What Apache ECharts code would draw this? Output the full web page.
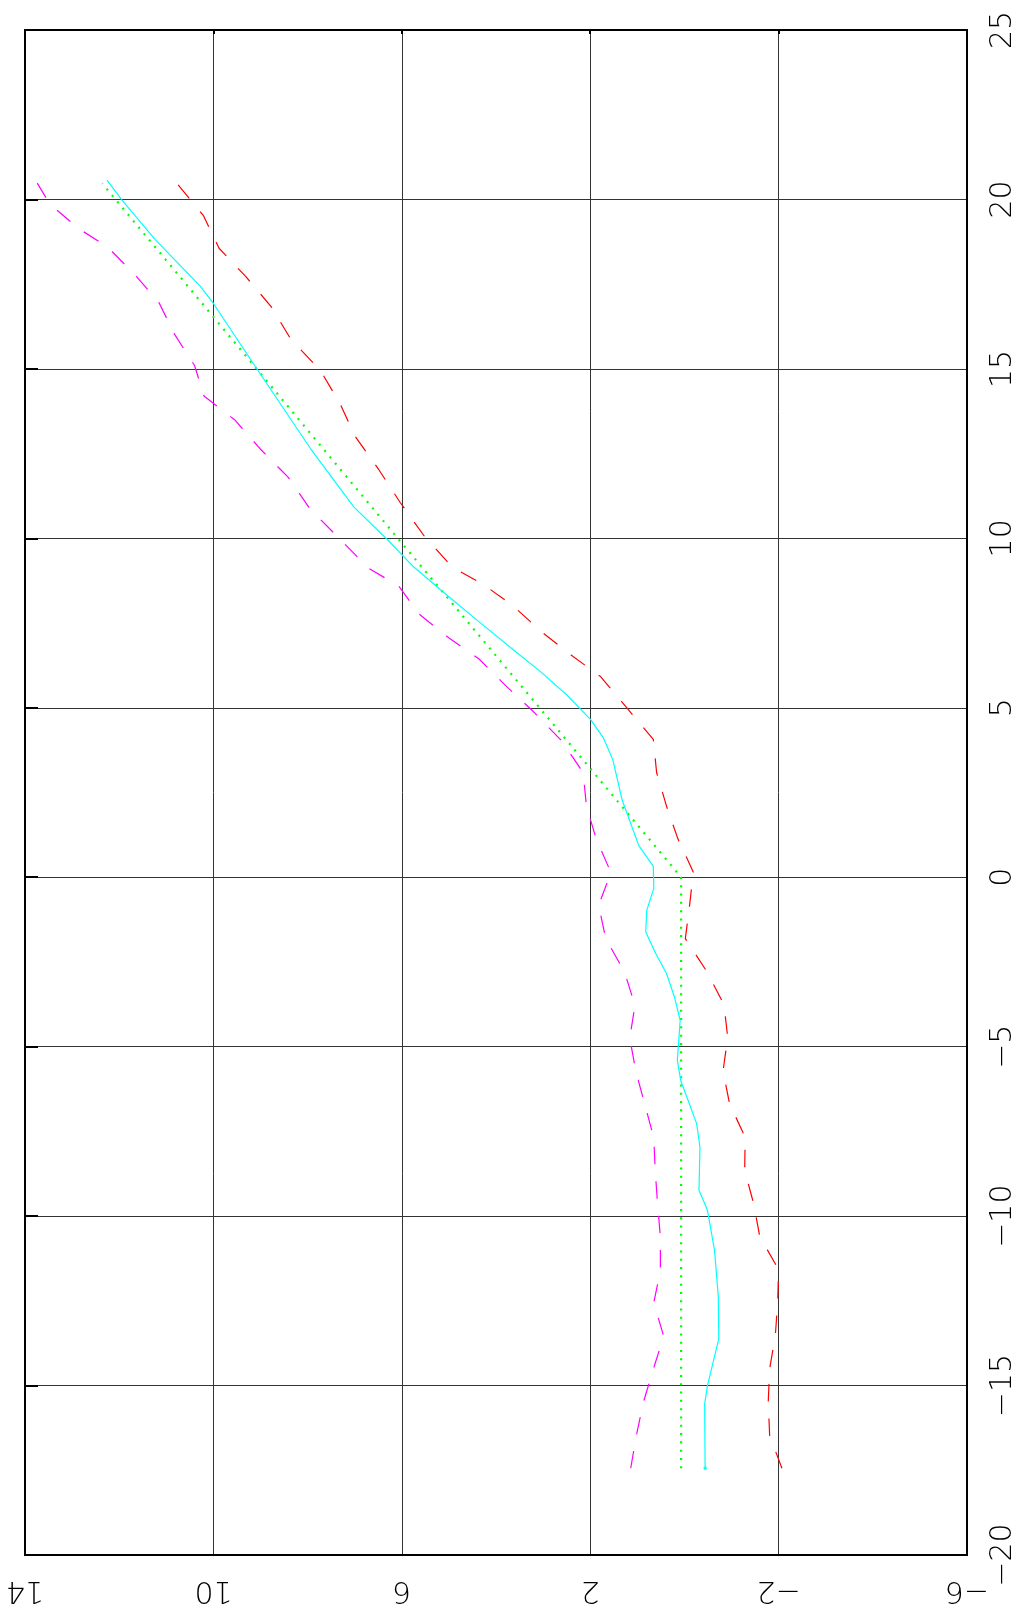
<!DOCTYPE html>
<html>
<head>
<meta charset="utf-8">
<script src="https://cdn.jsdelivr.net/npm/echarts@6/dist/echarts.min.js"></script>
<style>
html,body{margin:0;padding:0;background:#fff;}
#main{width:1022px;height:1612px;}
</style>
</head>
<body>
<div id="main"></div>
<script>
// Vertical axis (position along the curves), horizontal axis (value, reversed)
const valueTicks = [-6, -2, 2, 6, 10, 14];
const posTicks = [-20, -15, -10, -5, 0, 5, 10, 15, 20, 25];

// Red dashed series
const redPos = [-17.44,-16.47,-15.49,-14.50,-13.53,-12.56,-11.58,-10.60,-9.63,-8.65,-7.67,-6.69,-5.72,-4.73,-3.76,-2.77,-1.81,-0.83,0.15,1.14,2.10,3.09,4.07,5.01,5.92,6.55,7.24,8.02,8.65,9.14,10.06,11.05,12.03,13.01,13.97,14.96,15.86,16.83,17.72,18.56,19.52,20.48];
const redVal = [-2.07,-1.81,-1.78,-1.81,-1.93,-1.98,-2.00,-1.60,-1.47,-1.28,-1.29,-0.96,-0.82,-0.92,-0.84,-0.47,-0.02,-0.11,-0.19,0.14,0.38,0.59,0.66,1.23,1.78,2.40,3.03,3.65,4.28,4.92,5.52,6.03,6.49,6.99,7.31,7.73,8.35,8.77,9.31,9.88,10.21,10.78];

// Magenta dashed series
const magPos = [-17.44,-16.47,-15.49,-14.52,-13.54,-12.56,-11.60,-10.62,-9.63,-8.65,-7.69,-6.71,-5.73,-4.75,-3.78,-2.80,-1.81,-0.83,0.14,1.12,2.10,3.09,4.03,4.92,5.66,6.44,7.05,7.76,8.60,9.11,10.00,10.87,11.80,12.63,13.50,14.20,15.10,16.01,16.97,17.78,18.59,19.13,19.86,20.48];
const magVal = [1.14,1.02,0.87,0.66,0.44,0.65,0.51,0.51,0.57,0.62,0.65,0.84,1.03,1.16,1.05,1.27,1.67,1.82,1.56,1.87,2.08,2.15,2.61,3.23,3.80,4.36,4.99,5.63,6.07,6.70,7.33,7.95,8.41,9.00,9.55,10.20,10.40,10.82,11.16,11.67,12.24,12.85,13.47,13.74];

// Cyan solid series
const cyanPos = [-17.44,-15.54,-15.00,-13.62,-12.39,-11.01,-9.83,-9.24,-7.96,-7.27,-5.99,-5.40,-4.22,-3.54,-2.84,-2.25,-1.62,-0.98,-0.33,0.32,0.94,2.27,3.47,4.11,4.65,5.37,6.06,6.70,7.55,8.32,9.16,9.98,10.93,12.65,15.07,16.93,17.44,18.82,19.98,20.57];
const cyanVal = [-0.44,-0.43,-0.49,-0.73,-0.72,-0.64,-0.49,-0.31,-0.33,-0.26,0.08,0.15,0.09,0.21,0.38,0.61,0.82,0.80,0.65,0.66,0.97,1.32,1.52,1.72,1.99,2.49,3.05,3.62,4.37,5.04,5.75,6.32,7.02,7.94,9.11,10.00,10.28,11.24,11.94,12.26];

// Green dotted series
const greenPos = [-17.44, 0.0, 10.01, 20.47];
const greenVal = [0.07, 0.07, 6.09, 12.36];

function pairs(pos, val) { return pos.map((p, i) => [val[i], p]); }

const labelFont = '"DejaVu Sans", sans-serif';
const fmt = v => (v < 0 ? '\u2212' + Math.abs(v) : String(v));

const chart = echarts.init(document.getElementById('main'), null, {renderer: 'canvas'});
chart.setOption({
  animation: false,
  backgroundColor: '#fff',
  grid: {left: 25, right: 55, top: 30, bottom: 57, show: true, borderColor: '#000', borderWidth: 2, backgroundColor: 'transparent'},
  xAxis: [
    {
      type: 'value', min: valueTicks[0], max: valueTicks[valueTicks.length - 1], interval: 4,
      inverse: true, position: 'bottom',
      axisLine: {show: true, onZero: false, lineStyle: {color: '#000', width: 2}},
      axisTick: {show: false},
      axisLabel: {show: true, rotate: 180, color: '#000', fontSize: 30, fontWeight: 200, fontFamily: labelFont, margin: 20, formatter: fmt},
      splitLine: {show: true, lineStyle: {color: '#333', width: 1}}
    },
    {
      type: 'value', min: valueTicks[0], max: valueTicks[valueTicks.length - 1], interval: 4,
      inverse: true, position: 'top',
      axisLine: {show: true, onZero: false, lineStyle: {color: '#000', width: 2}},
      axisTick: {show: true, inside: true, length: 4, lineStyle: {color: '#000', width: 2}},
      axisLabel: {show: false}, splitLine: {show: false}
    }
  ],
  yAxis: [
    {
      type: 'value', min: posTicks[0], max: posTicks[posTicks.length - 1], interval: 5,
      position: 'right',
      axisLine: {show: true, onZero: false, lineStyle: {color: '#000', width: 2}},
      axisTick: {show: false},
      axisLabel: {show: true, rotate: 90, color: '#000', fontSize: 30, fontWeight: 200, fontFamily: labelFont, margin: 21, formatter: fmt},
      splitLine: {show: true, lineStyle: {color: '#333', width: 1}}
    },
    {
      type: 'value', min: posTicks[0], max: posTicks[posTicks.length - 1], interval: 5,
      position: 'left',
      axisLine: {show: true, onZero: false, lineStyle: {color: '#000', width: 2}},
      axisTick: {show: true, inside: true, length: 13, lineStyle: {color: '#000', width: 2}},
      axisLabel: {show: false}, splitLine: {show: false}
    }
  ],
  series: [
    {
      type: 'line', name: 'green', data: pairs(greenPos, greenVal), xAxisIndex: 0, yAxisIndex: 0,
      showSymbol: false, symbol: 'none', z: 2,
      lineStyle: {color: '#00ff00', width: 2.2, type: [2, 6.3], cap: 'butt'}
    },
    {
      type: 'line', name: 'cyan', data: pairs(cyanPos, cyanVal), xAxisIndex: 0, yAxisIndex: 0,
      showSymbol: true, symbol: 'rect', symbolSize: (v, p) => (p.dataIndex === 0 ? 3 : 0), z: 3,
      itemStyle: {color: '#00ffff'},
      lineStyle: {color: '#00ffff', width: 1.2}
    },
    {
      type: 'line', name: 'magenta', data: pairs(magPos, magVal), xAxisIndex: 0, yAxisIndex: 0,
      showSymbol: false, symbol: 'none', z: 4,
      lineStyle: {color: '#ff00ff', width: 1.2, type: [17.5, 17], cap: 'butt'}
    },
    {
      type: 'line', name: 'red', data: pairs(redPos, redVal), xAxisIndex: 0, yAxisIndex: 0,
      showSymbol: false, symbol: 'none', z: 4,
      lineStyle: {color: '#ff0000', width: 1.2, type: [17.5, 17], cap: 'butt'}
    }
  ]
});
</script>
</body>
</html>
